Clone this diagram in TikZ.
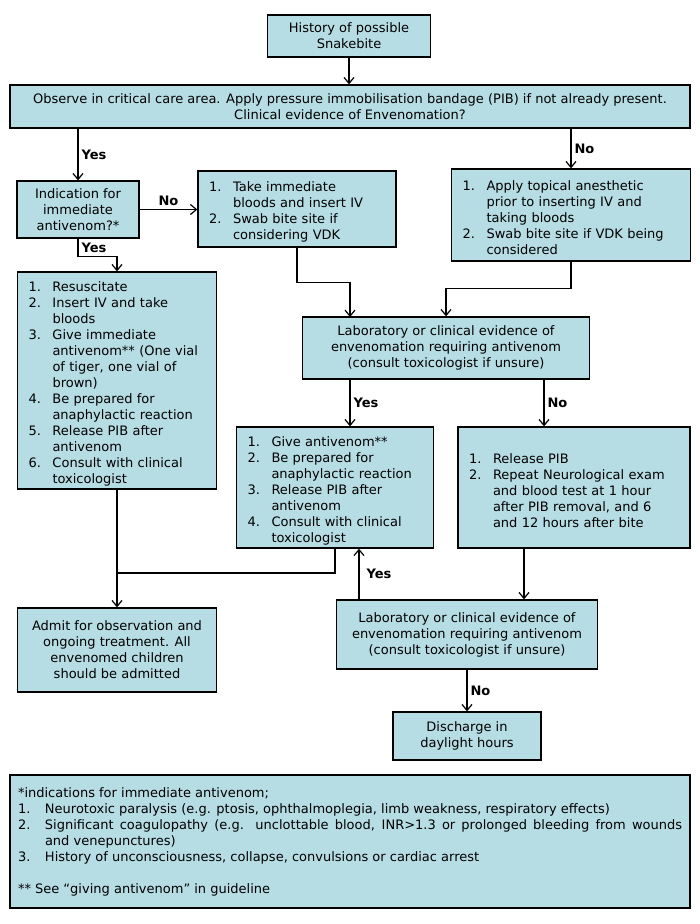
\documentclass[tikz,border=0pt]{standalone}
\usepackage{fontspec}
\setmainfont{DejaVu Sans}
\usepackage{tikz}
\usetikzlibrary{arrows.meta}
\definecolor{boxfill}{RGB}{183,221,228}
\newcommand{\stepitem}[3][24pt]{\par\noindent\hangindent=#1\hangafter=1\makebox[#1][l]{#2}#3\par}

\begin{document}
\begin{tikzpicture}[x=1pt,y=-1pt,
  box/.style={draw, line width=1.3pt, fill=boxfill, inner sep=0pt, align=center,
    font=\fontsize{13}{16}\selectfont},
  listbox/.style={box, align=left, inner xsep=11pt},
  arr/.style={-{Straight Barb[length=6pt,width=10pt]}, line width=1.2pt},
  lbl/.style={font=\fontsize{13}{16}\selectfont\bfseries, inner sep=0pt}]
\useasboundingbox (0,0) rectangle (700,924);

\node[box, minimum width=163, minimum height=42] (hist) at (349,36) {History of possible\\Snakebite};
\node[box, minimum width=680, minimum height=43] (obs) at (350,106.5)
  {Observe in critical care area. Apply pressure immobilisation bandage (PIB) if not already present.\\Clinical evidence of Envenomation?};
\node[box, minimum width=122, minimum height=57] (ind) at (78,209.5) {Indication for\\immediate\\antivenom?*};
\node[listbox, text width=176, minimum height=76] (take) at (297,209)
  {\stepitem{1.}{Take immediate\newline bloods and insert IV}\stepitem{2.}{Swab bite site if\newline considering VDK}};
\node[listbox, text width=217, minimum height=92] (apply) at (571,215)
  {\stepitem{1.}{Apply topical anesthetic\newline prior to inserting IV and\newline taking bloods}\stepitem{2.}{Swab bite site if VDK being\newline considered}};
\node[listbox, text width=177, minimum height=217] (resus) at (117,380.5)
  {\stepitem{1.}{Resuscitate}\stepitem{2.}{Insert IV and take\newline bloods}\stepitem{3.}{Give immediate\newline antivenom** (One vial\newline of tiger, one vial of\newline brown)}%
   \stepitem{4.}{Be prepared for\newline anaphylactic reaction}\stepitem{5.}{Release PIB after\newline antivenom}\stepitem{6.}{Consult with clinical\newline toxicologist}};
\node[box, minimum width=287, minimum height=62] (lab1) at (446,348)
  {Laboratory or clinical evidence of\\envenomation requiring antivenom\\(consult toxicologist if unsure)};
\node[listbox, text width=175, minimum height=121] (give) at (335,487.5)
  {\stepitem{1.}{Give antivenom**}\stepitem{2.}{Be prepared for\newline anaphylactic reaction}\stepitem{3.}{Release PIB after\newline antivenom}\stepitem{4.}{Consult with clinical\newline toxicologist}};
\node[listbox, text width=210, minimum height=121] (release) at (574,487.5)
  {\stepitem{1.}{Release PIB}\stepitem{2.}{Repeat Neurological exam\newline and blood test at 1 hour\newline after PIB removal, and 6\newline and 12 hours after bite}};
\node[box, minimum width=199, minimum height=84] (admit) at (117,650)
  {Admit for observation and\\ongoing treatment. All\\envenomed children\\should be admitted};
\node[box, minimum width=261, minimum height=69] (lab2) at (467,634.5)
  {Laboratory or clinical evidence of\\envenomation requiring antivenom\\(consult toxicologist if unsure)};
\node[box, minimum width=148, minimum height=48] (discharge) at (467,736) {Discharge in\\daylight hours};
\node[listbox, align=justify, inner xsep=8pt, text width=664, minimum height=133] (foot) at (350,841.5)
  {\noindent *indications for immediate antivenom;%
   \stepitem[27pt]{1.}{Neurotoxic paralysis (e.g. ptosis, ophthalmoplegia, limb weakness, respiratory effects)}%
   \stepitem[27pt]{2.}{Significant coagulopathy (e.g. unclottable blood, INR>1.3 or prolonged bleeding from wounds\linebreak and venepunctures)}%
   \stepitem[27pt]{3.}{History of unconsciousness, collapse, convulsions or cardiac arrest}%
   \vspace{16pt}\noindent ** See “giving antivenom” in guideline\par};

\coordinate (leftin) at (350,317);
\coordinate (noout) at (544,379);
\coordinate (joinpt) at (117,573);
\coordinate (yesup) at (359,600);
\coordinate (relout) at (524,548);

\draw[arr] (hist.south) -- (hist.south |- obs.north);
\draw[arr] (obs.south -| ind.north) -- (ind.north) node[lbl, midway, right=3pt] {Yes};
\draw[arr] (obs.south -| apply.north) -- (apply.north) node[lbl, midway, right=3pt] {No};
\draw[arr] (ind.east) -- (ind.east -| take.west) node[lbl, midway, above=3pt] {No};
\draw[arr] (ind.south) -- ++(0,18) node[lbl, midway, right=3pt] {Yes} -| (resus.north);
\draw[arr] (take.south) -- ++(0,35) -| (leftin);
\draw[arr] (apply.south) -- ++(0,27) -| (lab1.north);
\draw[arr] (lab1.south -| leftin) -- (give.north -| leftin) node[lbl, midway, right=3pt] {Yes};
\draw[arr] (lab1.south -| noout) -- (release.north -| noout) node[lbl, midway, right=3pt] {No};
\draw[arr] (resus.south) -- (admit.north);
\draw[line width=1.2pt] (give.south) |- (joinpt);
\draw[arr] (lab2.north -| yesup) -- (give.south -| yesup) node[lbl, midway, right=7pt] {Yes};
\draw[arr] (release.south -| relout) -- (lab2.north -| relout);
\draw[arr] (lab2.south) -- (discharge.north) node[lbl, midway, right=3pt] {No};
\end{tikzpicture}
\end{document}
